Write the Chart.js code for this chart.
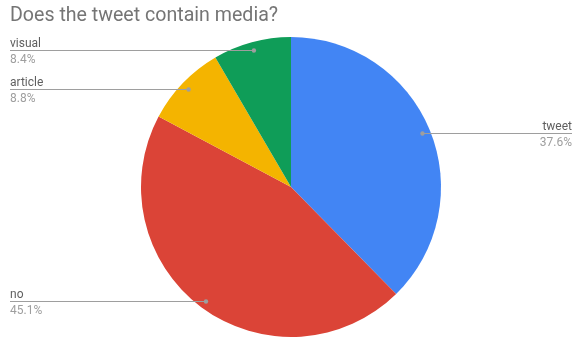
<!DOCTYPE html>
<html lang="en">
<head>
  <meta charset="UTF-8">
  <title>Does the tweet contain media?</title>
  <script src="https://cdn.jsdelivr.net/npm/chart.js"></script>
  <style>
    html, body { margin: 0; padding: 0; background: #fff; }
    #chart { display: block; }
  </style>
</head>
<body>
  <canvas id="chart" width="574" height="341"></canvas>

<script>
  const titleText = 'Does the tweet contain media?';
  const labels = ['tweet', 'no', 'article', 'visual'];
  const shares = [37.6, 45.1, 8.8, 8.4];
  const colors = ['#4285f4', '#db4437', '#f4b400', '#0f9d58'];

  // title + leader-line labels, drawn on top of the pie
  const calloutPlugin = {
    id: 'callouts',
    afterDraw(chart) {
      const ctx = chart.ctx;
      const w = chart.width;
      ctx.save();
      ctx.font = '19.6px Roboto';
      ctx.fillStyle = '#757575';
      ctx.textAlign = 'left';
      ctx.textBaseline = 'alphabetic';
      ctx.fillText(titleText, 10, 21);

      const arcs = chart.getDatasetMeta(0).data;
      arcs.forEach((arc, i) => {
        const mid = (arc.startAngle + arc.endAngle) / 2;
        const r = arc.outerRadius * 0.947;
        const px = arc.x + Math.cos(mid) * r;
        const py = Math.round(arc.y + Math.sin(mid) * r) + 0.5;
        const right = px > arc.x;

        ctx.strokeStyle = '#9e9e9e';
        ctx.lineWidth = 1;
        ctx.beginPath();
        if (right) { ctx.moveTo(px, py); ctx.lineTo(w - 2, py); }
        else { ctx.moveTo(10, py); ctx.lineTo(px, py); }
        ctx.stroke();

        ctx.fillStyle = '#9e9e9e';
        ctx.beginPath();
        ctx.arc(px, py, 2.2, 0, Math.PI * 2);
        ctx.fill();

        ctx.font = '12px Roboto';
        ctx.textAlign = right ? 'right' : 'left';
        const tx = right ? w - 2 : 10;
        ctx.fillStyle = '#5f5f5f';
        ctx.fillText(labels[i], tx, py - 4);
        ctx.fillStyle = '#9e9e9e';
        ctx.fillText(shares[i].toFixed(1) + '%', tx, py + 12);
      });
      ctx.restore();
    }
  };

  new Chart(document.getElementById('chart'), {
    type: 'pie',
    data: {
      labels: labels,
      datasets: [{
        data: shares,
        backgroundColor: colors,
        borderWidth: 0
      }]
    },
    options: {
      responsive: false,
      animation: false,
      layout: { padding: { top: 37, bottom: 4, left: 141, right: 133 } },
      plugins: {
        legend: { display: false },
        title: { display: false },
        tooltip: { enabled: false }
      }
    },
    plugins: [calloutPlugin]
  });
</script>
</body>
</html>
